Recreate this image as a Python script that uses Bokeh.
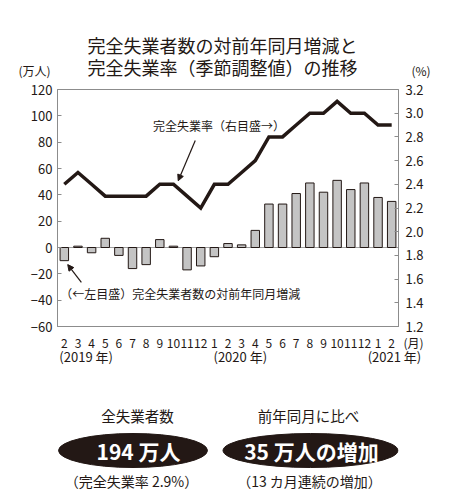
from bokeh.plotting import figure
from bokeh.models import (Range1d, LinearAxis, FixedTicker, NumeralTickFormatter,
                          Label, Arrow, NormalHead, Span)
from bokeh.layouts import column
from bokeh.embed import file_html
from bokeh.resources import INLINE

# 2019年2月 ～ 2021年2月
months = ['2', '3', '4', '5', '6', '7', '8', '9', '10', '11', '12',
          '1', '2', '3', '4', '5', '6', '7', '8', '9', '10', '11', '12',
          '1', '2']
# 完全失業者数の対前年同月増減（万人）
change = [-10, 1, -4, 7, -6, -16, -13, 6, 1, -17, -14, -7,
          3, 2, 13, 33, 33, 41, 49, 42, 51, 44, 49, 38, 35]
# 完全失業率（季節調整値, %）
rate = [2.4, 2.5, 2.4, 2.3, 2.3, 2.3, 2.3, 2.4, 2.4, 2.3, 2.2, 2.4,
        2.4, 2.5, 2.6, 2.8, 2.8, 2.9, 3.0, 3.0, 3.1, 3.0, 3.0, 2.9, 2.9]
left_ticks = [-60, -40, -20, 0, 20, 40, 60, 80, 100, 120]
right_ticks = [1.2, 1.4, 1.6, 1.8, 2.0, 2.2, 2.4, 2.6, 2.8, 3.0, 3.2]
years = ['(2019 年)', '(2020 年)', '(2021 年)']
year_pos = [1.6, 12.9, 24.2]

FONT = 'Noto Sans CJK JP'
INK = '#231815'
GRAY = '#8c8c8c'


def bare_axis(axis, standoff, size='13px'):
    axis.axis_line_color = None
    axis.major_tick_line_color = None
    axis.minor_tick_line_color = None
    axis.major_label_standoff = standoff
    axis.major_label_text_font = FONT
    axis.major_label_text_font_size = size
    axis.major_label_text_color = INK


# 見出しと単位
t = figure(width=450, height=79, output_backend='svg', toolbar_location=None,
           title=None, x_range=Range1d(57, 398), y_range=Range1d(79, 0),
           x_axis_location=None, min_border_left=57, min_border_right=52,
           min_border_top=0, min_border_bottom=0, outline_line_color=None)
t.grid.visible = False
t.yaxis.ticker = FixedTicker(ticks=[70])
t.yaxis.major_label_overrides = {70: '(万人)'}
bare_axis(t.yaxis[0], 1, '12px')
unit_r = LinearAxis(ticker=FixedTicker(ticks=[70]), major_label_overrides={70: '(%)'})
bare_axis(unit_r, 7, '12px')
t.add_layout(unit_r, 'right')
for text, yp in [('完全失業者数の対前年同月増減と', 44), ('完全失業率（季節調整値）の推移', 66)]:
    t.add_layout(Label(x=87, y=yp, text=text, text_font=FONT, text_font_size='18px',
                       text_color=INK, text_baseline='middle'))

# グラフ本体
x = list(range(len(months)))
p = figure(width=450, height=299, output_backend='svg', toolbar_location=None,
           title=None, x_range=Range1d(-0.5, 24.5), y_range=Range1d(-60, 120),
           min_border_left=57, min_border_right=52, min_border_top=10,
           min_border_bottom=52)
p.extra_y_ranges = {'rate': Range1d(1.2, 3.2)}
p.grid.visible = False
p.outline_line_color = GRAY
p.outline_line_width = 1

p.xaxis.ticker = FixedTicker(ticks=x)
p.xaxis.major_label_overrides = {i: m for i, m in enumerate(months)}
bare_axis(p.xaxis[0], 6, '12px')
p.xaxis.axis_line_color = GRAY

year_axis = LinearAxis(ticker=FixedTicker(ticks=year_pos),
                       major_label_overrides={v: s for v, s in zip(year_pos, years)})
bare_axis(year_axis, -10)
p.add_layout(year_axis, 'below')

p.yaxis.ticker = FixedTicker(ticks=left_ticks)
p.yaxis.axis_line_color = GRAY
p.yaxis.major_tick_line_color = GRAY
p.yaxis.major_tick_in = 4
p.yaxis.major_tick_out = 0
p.yaxis.minor_tick_line_color = None
p.yaxis.major_label_standoff = 5
p.yaxis.major_label_text_font = FONT
p.yaxis.major_label_text_font_size = '13px'
p.yaxis.major_label_text_color = INK

ax = LinearAxis(y_range_name='rate', ticker=FixedTicker(ticks=right_ticks),
                formatter=NumeralTickFormatter(format='0.0'))
ax.axis_line_color = GRAY
ax.major_tick_line_color = GRAY
ax.major_tick_in = 4
ax.major_tick_out = 0
ax.minor_tick_line_color = None
ax.major_label_standoff = 7
ax.major_label_text_font = FONT
ax.major_label_text_font_size = '13px'
ax.major_label_text_color = INK
p.add_layout(ax, 'right')

# 「(月)」は右側のパネルに置き、月の行の右端に出す
p.add_layout(Label(x=-23, y=-16, x_units='screen', y_units='screen', text='(月)',
                   text_font=FONT, text_font_size='12px', text_color=INK,
                   text_baseline='middle'), 'right')

p.add_layout(Span(location=0, dimension='width', line_color='#a0a0a0',
                  line_width=1, level='underlay'))

p.vbar(x=x, top=change, bottom=0, width=0.62, fill_color='#c4c4c4',
       line_color=INK, line_width=1)
p.line(x, rate, y_range_name='rate', line_color=INK, line_width=3.5,
       line_join='miter')

# 注記
p.add_layout(Label(x=6.5, y=2.9, y_range_name='rate', text='完全失業率（右目盛→）',
                   text_font=FONT, text_font_size='12px', text_color=INK,
                   text_baseline='middle'))
p.add_layout(Arrow(end=NormalHead(size=6, fill_color=INK, line_color=INK),
                   x_start=9.6, y_start=2.77, x_end=8.35, y_end=2.43,
                   y_range_name='rate', line_color=INK, line_width=1.2))
p.add_layout(Label(x=-0.3, y=-35, text='（←左目盛）完全失業者数の対前年同月増減',
                   text_font=FONT, text_font_size='12px', text_color=INK,
                   text_baseline='middle'))
p.add_layout(Arrow(end=NormalHead(size=6, fill_color=INK, line_color=INK),
                   x_start=1.25, y_start=-26.5, x_end=0.25, y_end=-13,
                   line_color=INK, line_width=1.2))

# 下部のまとめ
q = figure(width=450, height=125, output_backend='svg', toolbar_location=None,
           title=None, x_range=Range1d(57, 398), y_range=Range1d(0, 125),
           x_axis_location=None, y_axis_location=None,
           min_border_left=57, min_border_right=52, min_border_top=0,
           min_border_bottom=0, outline_line_color=None)
q.grid.visible = False
q.ellipse(x=[132.5, 310], y=[53, 53], width=[149, 175], height=[34, 34],
          fill_color=INK, line_color=INK)
for text, xp, yp, size, color, style in [
        ('全失業者数', 137, 88, '14.5px', INK, 'normal'),
        ('前年同月に比べ', 308, 88, '14.5px', INK, 'normal'),
        ('194 万人', 138, 53, '21px', 'white', 'bold'),
        ('35 万人の増加', 311, 53, '21px', 'white', 'bold'),
        ('（完全失業率 2.9%）', 131, 23, '14px', INK, 'normal'),
        ('（13 カ月連続の増加）', 309, 23, '14px', INK, 'normal')]:
    q.add_layout(Label(x=xp, y=yp, text=text, text_font=FONT, text_font_size=size,
                       text_color=color, text_font_style=style,
                       text_align='center', text_baseline='middle'))

open('out.html', 'w').write(file_html(column(t, p, q), INLINE))
